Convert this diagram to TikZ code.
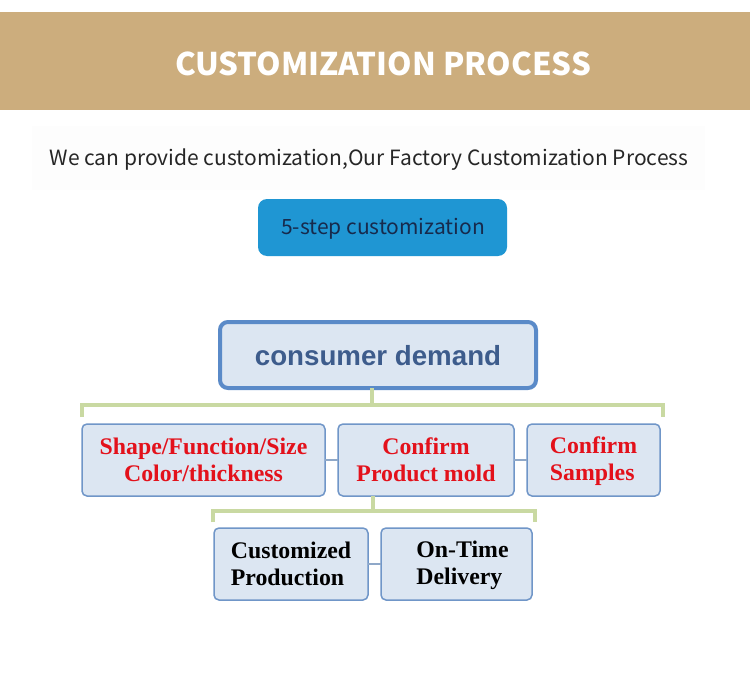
\documentclass[tikz,border=0pt]{standalone}
\usepackage{fontspec}
\setmainfont{Liberation Serif}
\newfontfamily\cjkfont{Noto Sans CJK SC}
\newfontfamily\arialfont{Liberation Sans}
\definecolor{banner}{HTML}{CCAD7D}
\definecolor{btnblue}{HTML}{1F96D3}
\definecolor{btntext}{HTML}{172A4C}
\definecolor{boxfill}{HTML}{DCE6F2}
\definecolor{boxline}{HTML}{7096C8}
\definecolor{cdline}{HTML}{5A8AC8}
\definecolor{cdtext}{HTML}{3D5C8C}
\definecolor{green}{HTML}{C9D9A2}
\definecolor{redtxt}{HTML}{E3111B}
\definecolor{thinline}{HTML}{8FA8C8}
\definecolor{band}{HTML}{FDFDFD}
\tikzset{
  every node/.style={inner sep=0pt, outer sep=0pt},
  stepbox/.style={draw=boxline, line width=1.5pt, fill=boxfill, rounded corners=5pt,
     minimum height=72pt, font=\fontsize{23.8}{27}\selectfont\bfseries},
  redbox/.style={stepbox, text=redtxt},
  blackbox/.style={stepbox, text=black},
  greenline/.style={draw=green, line width=4pt},
  linkline/.style={draw=thinline, line width=1.2pt}
}
\begin{document}
\begin{tikzpicture}[x=1pt, y=-1pt]
\useasboundingbox (0,0) rectangle (750,682);
\fill[white] (0,0) rectangle (750,682);
% banner
\fill[banner] (0,12) rectangle (750,110);
\node[anchor=base, text=white, font=\cjkfont\bfseries\fontsize{31.2}{36}\selectfont] (title) at (383,76) {CUSTOMIZATION PROCESS};
% subtitle band
\fill[band] (32,126) rectangle (705,190);
\node[anchor=base, text=black!85, font=\cjkfont\fontsize{21}{24}\selectfont] (sub) at (369,166) {We can provide customization,Our Factory Customization Process};
% button
\node[fill=btnblue, rounded corners=9pt, minimum width=249pt, minimum height=57pt] (btn) at (382.5,227.5) {};
\node[anchor=base, text=btntext, font=\cjkfont\fontsize{21}{24}\selectfont] (btntxt) at (383,234) {5-step customization};
% consumer demand
\node[draw=cdline, line width=4pt, fill=boxfill, rounded corners=8pt, minimum width=316pt, minimum height=66pt] (cd) at (378,355) {};
\node[anchor=base, text=cdtext, font=\arialfont\bfseries\fontsize{27.7}{32}\selectfont] (cdtxt) at (378,365) {consumer demand};
% row 2
\node[redbox, minimum width=243pt, align=center] (a) at (203.5,460) {Shape/Function/Size\\Color/thickness};
\node[redbox, minimum width=176pt, align=center] (b) at (426,460) {Confirm\\Product mold};
\node[draw=none, fill=none, minimum width=133pt, minimum height=72pt] (c) at (593.5,460) {};
\fill[boxfill, draw=boxline, line width=1.5pt, rounded corners=5pt] (c.north west) rectangle (c.south east);
\node[font=\fontsize{23.8}{27}\selectfont\bfseries, text=redtxt, align=left] (ctxt) at (593.5,461.5) {Confirm\\Samples};
% row 3
\node[blackbox, minimum width=154pt, align=left] (d) at (291,564) {Customized\\Production};
\node[draw=none, fill=none, minimum width=151pt, minimum height=72pt] (e) at (456.5,564) {};
\fill[boxfill, draw=boxline, line width=1.5pt, rounded corners=5pt] (e.north west) rectangle (e.south east);
\node[font=\fontsize{23.8}{27}\selectfont\bfseries, text=black, align=left] (etxt) at (462.5,565.5) {On-Time\\Delivery};
% green connectors
\coordinate (j1) at (372,405);
\coordinate (tl) at (82,417);
\coordinate (tr) at (663,417);
\draw[greenline] (cd.south -| j1) -- (j1);
\draw[greenline] (tl) -- (tl |- j1) -- (tr |- j1) -- (tr);
\coordinate (j2) at (373,511);
\coordinate (bl) at (213,522);
\coordinate (br) at (535,522);
\draw[greenline] (b.south -| j2) -- (j2);
\draw[greenline] (bl) -- (bl |- j2) -- (br |- j2) -- (br);
% thin links
\draw[linkline] (a.east) -- (b.west);
\draw[linkline] (b.east) -- (c.west);
\draw[linkline] (d.east) -- (e.west);
\end{tikzpicture}
\end{document}
